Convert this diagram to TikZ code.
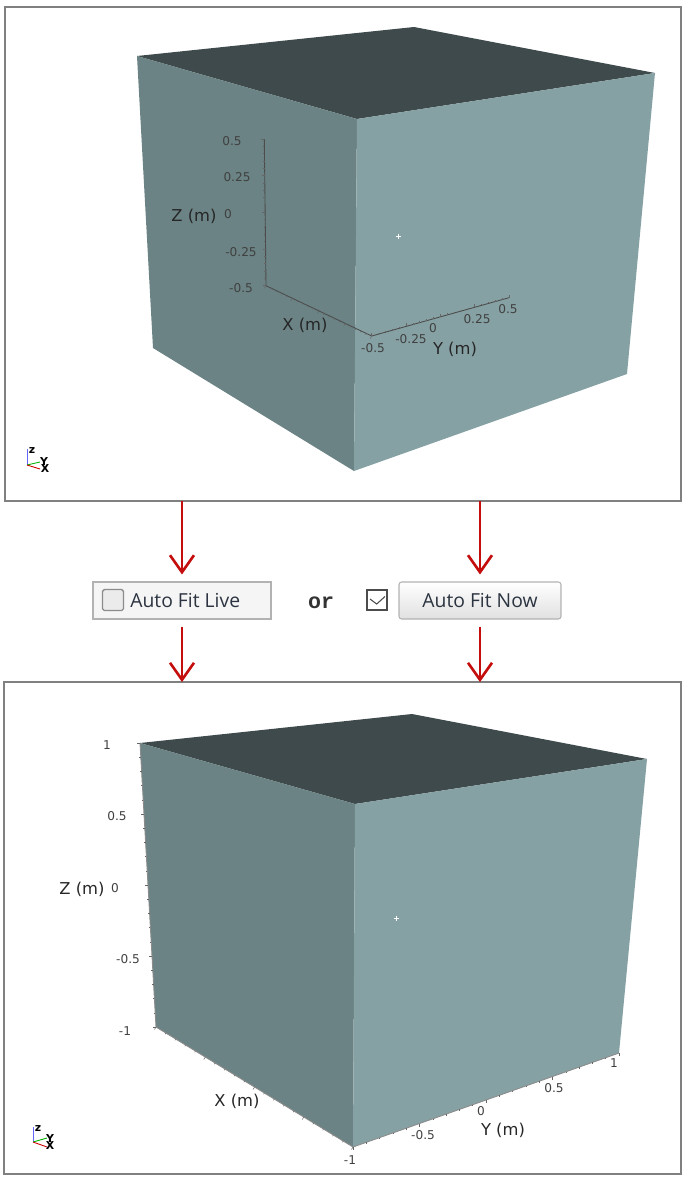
\documentclass[tikz,border=0pt]{standalone}
\usepackage{fontspec}
\setmainfont{DejaVu Sans}
\newfontfamily\btnfont{Open Sans}
\newfontfamily\orfont{Liberation Mono}
\usetikzlibrary{arrows.meta, calc}
\definecolor{ctop}{HTML}{3E4A4B}
\definecolor{cleft}{HTML}{6B8384}
\definecolor{cright}{HTML}{86A1A4}
\definecolor{cframe}{HTML}{808080}
\definecolor{cred}{HTML}{C40E0E}
\definecolor{cbtn}{HTML}{B2B2B2}
\definecolor{cink}{HTML}{2B3440}
\tikzset{
  viewframe/.style={draw=cframe, line width=1.2pt, inner sep=0pt, outer sep=0pt},
  topface/.style={fill=ctop},
  leftface/.style={fill=cleft},
  rightface/.style={fill=cright},
  axisline/.style={draw=black!70, line width=0.5pt},
  tick/.style={draw=black!60, line width=0.3pt},
  axislabel/.style={font=\fontsize{9.3}{11}\selectfont, text=black!85, inner sep=0pt},
  ticklabel/.style={font=\fontsize{6.9}{8}\selectfont, text=black!75, inner sep=0pt},
  triad/.style={font=\bfseries\fontsize{6.2}{7}\selectfont, text=black, inner sep=0pt},
  flow/.style={-{Straight Barb[length=3.4mm, width=4.8mm]}, draw=cred, line width=1.5pt},
  btnlabel/.style={font=\btnfont\fontsize{11}{13}\selectfont, text=cink, inner sep=0pt},
}

\begin{document}
\begin{tikzpicture}[x=0.02cm, y=-0.02cm]
  \useasboundingbox (0,0) rectangle (687,1181);
  % upper view
  \node[viewframe, minimum width=13.52cm, minimum height=9.88cm] (upperview) at (343,254) {};
  \fill[topface] (137,56) -- (414,27) -- (655,73) -- (357,119) -- cycle;
  \fill[leftface] (137,56) -- (357,119) -- (354,471) -- (153,348) -- cycle;
  \fill[rightface] (357,119) -- (655,73) -- (627,374) -- (354,471) -- cycle;
  \draw[white, line width=0.3pt] (396,236) -- (401,236) (398.5,233.5) -- (398.5,238.5);
  % upper axes
  \coordinate (ztop) at (264.3,139);
  \coordinate (zbot) at (266,285.7);
  \coordinate (xend) at (371.7,336);
  \coordinate (yend) at (509,297.7);
  \draw[axisline] (ztop) -- (zbot) -- (xend) -- (yend);
  \foreach \a/\b/\dx/\dy in {ztop/zbot/-3/0, zbot/xend/-1.5/2.5, xend/yend/0/-3}
    \foreach \i in {0,...,20} {
      \pgfmathsetmacro\t{\i/20}
      \pgfmathsetmacro\m{mod(\i,5)==0 ? 1 : 0.5}
      \draw[tick] ($(\a)!\t!(\b)$) -- ++(\m*\dx,\m*\dy);
    }
  \foreach \n/\x/\y/\t in {a/232/141/0.5, b/237/177/0.25, c/228/214/0, d/241/252/-0.25, e/241/288/-0.5}
    \node[ticklabel] (uz\n) at (\x,\y) {\t};
  \foreach \n/\x/\y/\t in {a/373/348/-0.5, b/411/339/-0.25, c/433/328/0, d/477/319/0.25, e/508/309/0.5}
    \node[ticklabel] (uy\n) at (\x,\y) {\t};
  \node[axislabel] (uzlabel) at (194,216) {Z (m)};
  \node[axislabel] (uxlabel) at (305,325) {X (m)};
  \node[axislabel] (uylabel) at (455,349) {Y (m)};
  % upper triad
  \coordinate (ut) at (27,465);
  \draw[blue!60, line width=0.5pt] (ut) -- (27,449);
  \draw[green!70!black, line width=0.5pt] (ut) -- (40,462);
  \draw[red!80!black, line width=0.5pt] (ut) -- (40,469);
  \node[triad] (utz) at (32,451) {z};
  \node[triad] (uty) at (44,462) {Y};
  \node[triad] (utx) at (45,469) {X};
  % buttons
  \node[draw=cbtn, fill=black!4, line width=0.6pt, minimum width=3.56cm, minimum height=0.74cm, inner sep=0pt] (livebtn) at (182,600.5) {};
  \node[draw=black!45, fill=black!8, rounded corners=1pt, line width=0.8pt, minimum size=0.42cm, inner sep=0pt] (livebox) at (113,600) {};
  \node[btnlabel, anchor=west] (livetext) at (130,600) {Auto Fit Live};
  \node[font=\orfont\bfseries\fontsize{12.3}{14}\selectfont, text=black!80, inner sep=0pt] (ortext) at (321,603) {or};
  \node[draw=black!70, fill=white, line width=0.6pt, minimum size=0.4cm, inner sep=0pt] (nowbox) at (377,600) {};
  \draw[black!70, line width=0.6pt] (370,599) -- (376.7,604) -- (385,596.5);
  \node[draw=cbtn, top color=white, bottom color=black!12, rounded corners=1.5pt, line width=0.6pt, minimum width=3.24cm, minimum height=0.74cm, inner sep=0pt] (nowbtn) at (480,600.5) {};
  \node[btnlabel] (nowtext) at (480,600) {Auto Fit Now};
  % lower view
  \node[viewframe, minimum width=13.54cm, minimum height=9.84cm] (lowerview) at (342.5,928) {};
  \fill[topface] (140,743) -- (412,714) -- (647,759) -- (355,804) -- cycle;
  \fill[leftface] (140,743) -- (355,804) -- (353,1147) -- (156,1027) -- cycle;
  \fill[rightface] (355,804) -- (647,759) -- (619,1053) -- (353,1147) -- cycle;
  \draw[white, line width=0.3pt] (393.5,918) -- (398.5,918) (396,915.5) -- (396,920.5);
  % lower axes
  \coordinate (lztop) at (140,743);
  \coordinate (lzbot) at (156,1027);
  \coordinate (lxend) at (353,1147);
  \coordinate (lyend) at (619,1053);
  \draw[axisline, draw=black!45] (lztop) -- (lzbot) -- (lxend) -- (lyend);
  \foreach \a/\b/\dx/\dy in {lztop/lzbot/-3/0, lzbot/lxend/-1.5/2.5, lxend/lyend/0/3}
    \foreach \i in {0,...,20} {
      \pgfmathsetmacro\t{\i/20}
      \pgfmathsetmacro\m{mod(\i,5)==0 ? 1 : 0.5}
      \draw[tick] ($(\a)!\t!(\b)$) -- ++(\m*\dx,\m*\dy);
    }
  \foreach \n/\x/\y/\t in {a/107/745/1, b/117/816/0.5, c/115/888/0, d/128/959/-0.5, e/125/1031/-1}
    \node[ticklabel] (lz\n) at (\x,\y) {\t};
  \foreach \n/\x/\y/\t in {a/350/1160/-1, b/423/1135/-0.5, c/481/1111/0, d/554/1088/0.5, e/614/1063/1}
    \node[ticklabel] (ly\n) at (\x,\y) {\t};
  \node[axislabel] (lzlabel) at (82,889) {Z (m)};
  \node[axislabel] (lxlabel) at (237,1101) {X (m)};
  \node[axislabel] (lylabel) at (503,1130) {Y (m)};
  % lower triad
  \coordinate (lt) at (33,1142);
  \draw[blue!60, line width=0.5pt] (lt) -- (33,1127);
  \draw[green!70!black, line width=0.5pt] (lt) -- (47,1138);
  \draw[red!80!black, line width=0.5pt] (lt) -- (47,1147);
  \node[triad] (ltz) at (38,1129) {z};
  \node[triad] (lty) at (50,1139) {Y};
  \node[triad] (ltx) at (50,1146) {X};
  % arrows
  \draw[flow, shorten >=0.14cm] (livebtn |- upperview.south) -- (livebtn);
  \draw[flow, shorten >=0.14cm] (nowbtn |- upperview.south) -- (nowbtn);
  \draw[flow, shorten <=0.14cm] (livebtn.south) -- (livebtn |- lowerview.north);
  \draw[flow, shorten <=0.14cm] (nowbtn.south) -- (nowbtn |- lowerview.north);
\end{tikzpicture}
\end{document}
